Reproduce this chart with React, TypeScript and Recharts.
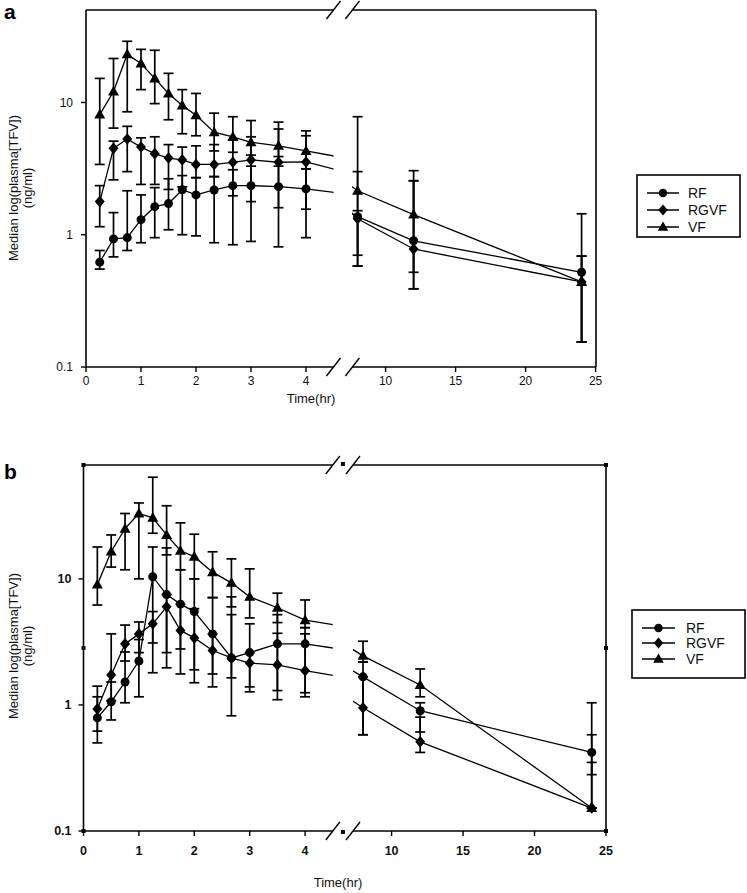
import React from 'react';
import { LineChart, Line, XAxis, YAxis, ErrorBar } from 'recharts';

const times = [0.25, 0.5, 0.75, 1, 1.25, 1.5, 1.75, 2, 2.33, 2.67, 3, 3.5, 4, 8, 12, 24];
const leftTicks = [0, 1, 2, 3, 4];
const rightTicks = [10, 15, 20, 25];
const yTicks = [0.1, 1, 10];
const seriesNames = ['RF', 'RGVF', 'VF'];

// Panel a
const aRF = [0.62, 0.93, 0.95, 1.3, 1.63, 1.72, 2.19, 2.0, 2.18, 2.35, 2.35, 2.31, 2.22, 1.37, 0.9, 0.52];
const aRFLow = [0.55, 0.68, 0.76, 0.87, 0.95, 1.09, 1.0, 0.98, 0.87, 0.84, 0.89, 0.81, 0.95, 0.58, 0.39, 0.155];
const aRFHigh = [0.76, 1.47, 2.15, 2.0, 2.27, 2.65, 2.8, 2.7, 2.75, 3.1, 3.3, 3.3, 3.15, 1.52, 2.56, 1.44];
const aRGVF = [1.78, 4.5, 5.3, 4.6, 4.1, 3.8, 3.68, 3.4, 3.4, 3.53, 3.68, 3.53, 3.55, 1.32, 0.78, 0.44];
const aRGVFLow = [1.15, 2.6, 3.0, 2.4, 2.4, 2.2, 2.3, 2.7, 2.75, 1.97, 1.78, 1.6, 1.56, 0.7, 0.39, 0.155];
const aRGVFHigh = [2.35, 5.1, 6.6, 5.4, 5.5, 4.8, 4.6, 4.7, 4.8, 5.2, 5.5, 6.3, 5.6, 3.0, 2.56, 0.69];
const aVF = [8.1, 12.1, 23.1, 19.7, 15.2, 11.7, 9.5, 8.0, 5.96, 5.5, 5.0, 4.7, 4.3, 2.15, 1.42, 0.44];
const aVFLow = [3.4, 6.4, 8.5, 12.5, 9.8, 7.4, 5.8, 5.6, 4.3, 4.2, 4.0, 3.9, 3.15, 0.58, 0.52, 0.155];
const aVFHigh = [15.2, 21.5, 29, 25.2, 24.8, 16.6, 12.5, 11.7, 8.3, 7.8, 7.3, 7.1, 6.1, 7.8, 3.05, 0.69];

// Panel b
const bRF = [0.79, 1.06, 1.52, 2.23, 10.4, 7.5, 6.3, 5.5, 3.66, 2.36, 2.6, 3.05, 3.05, 1.67, 0.9, 0.42];
const bRFLow = [0.5, 0.76, 1.04, 1.16, 1.8, 2.6, 2.78, 1.9, 1.76, 0.82, 1.39, 1.3, 1.25, 0.58, 0.61, 0.28];
const bRFHigh = [1.16, 1.52, 2.63, 3.3, 17.9, 17.6, 11.8, 10, 7.1, 7.2, 4.4, 5.2, 4.1, 2.19, 1.04, 1.04];
const bRGVF = [0.93, 1.73, 3.05, 3.66, 4.4, 6.0, 3.9, 3.4, 2.7, 2.36, 2.15, 2.08, 1.87, 0.95, 0.51, 0.152];
const bRGVFLow = [0.62, 1.08, 2.23, 2.6, 3.1, 1.97, 1.76, 1.5, 1.39, 1.64, 1.27, 1.1, 1.16, 0.58, 0.42, 0.152];
const bRGVFHigh = [1.41, 3.66, 4.3, 4.55, 5.5, 7.5, 6.3, 5.8, 3.66, 5.2, 2.6, 3.7, 3.66, 1.67, 0.8, 0.35];
const bVF = [9.0, 16.5, 25, 33, 30.5, 22.3, 16.7, 15, 11.3, 9.3, 7.2, 5.9, 4.7, 2.45, 1.44, 0.152];
const bVFLow = [6.2, 12.4, 11.8, 10, 23, 15.5, 11.8, 10, 7.1, 6.0, 4.9, 4.5, 4.1, 2.19, 1.16, 0.152];
const bVFHigh = [17.9, 22.3, 33, 40, 64, 38, 27.8, 22.6, 16.4, 14.4, 12, 7.7, 6.8, 3.2, 1.93, 0.58];

const FONT = '"Liberation Sans", Arial, sans-serif';

type Ser = { name: string; med: number[]; lo: number[]; hi: number[] };

const seriesA: Ser[] = [
  { name: 'RF', med: aRF, lo: aRFLow, hi: aRFHigh },
  { name: 'RGVF', med: aRGVF, lo: aRGVFLow, hi: aRGVFHigh },
  { name: 'VF', med: aVF, lo: aVFLow, hi: aVFHigh },
];
const seriesB: Ser[] = [
  { name: 'RF', med: bRF, lo: bRFLow, hi: bRFHigh },
  { name: 'RGVF', med: bRGVF, lo: bRGVFLow, hi: bRGVFHigh },
  { name: 'VF', med: bVF, lo: bVFLow, hi: bVFHigh },
];

function buildRows(series: Ser[], tMin: number, tMax: number, keepMin: number, keepMax: number) {
  const rows: any[] = [];
  times.forEach((t, i) => {
    if (t < keepMin || t > keepMax) return;
    const inside = t >= tMin && t <= tMax;
    const row: any = { t };
    series.forEach((s) => {
      row[s.name] = s.med[i];
      row[s.name + 'Err'] = inside ? [s.med[i] - s.lo[i], s.hi[i] - s.med[i]] : null;
    });
    rows.push(row);
  });
  return rows;
}

function drawMarker(shape: string, cx: number, cy: number, key?: any, scale = 1) {
  if (shape === 'RF') return <circle key={key} cx={cx} cy={cy} r={4.5 * scale} fill="#000" />;
  if (shape === 'RGVF')
    return (
      <polygon
        key={key}
        points={`${cx},${cy - 5.8 * scale} ${cx + 5 * scale},${cy} ${cx},${cy + 5.8 * scale} ${cx - 5 * scale},${cy}`}
        fill="#000"
      />
    );
  return (
    <polygon
      key={key}
      points={`${cx},${cy - 5.8 * scale} ${cx + 5.5 * scale},${cy + 4 * scale} ${cx - 5.5 * scale},${cy + 4 * scale}`}
      fill="#000"
    />
  );
}

const makeDot = (shape: string) => (props: any) => {
  const { cx, cy, index } = props;
  if (cx == null || cy == null || isNaN(cx) || isNaN(cy)) return <g key={`d-${shape}-${index}`} />;
  return drawMarker(shape, cx, cy, `d-${shape}-${index}`);
};

type SegProps = {
  x0: number;
  x1: number;
  yTop: number;
  yBottom: number;
  domain: [number, number];
  ticks: number[];
  yDomain: [number, number];
  data: any[];
  showY: boolean;
  xTickMargin: number;
  yTickMargin: number;
  marginRight: number;
  tickWeight: string;
  tickSize: number;
};

function Segment(p: SegProps) {
  const chartLeft = p.showY ? 0 : p.x0;
  const chartTop = p.yTop - 8;
  const xAxisH = 34;
  const width = p.x1 - chartLeft + p.marginRight;
  const height = p.yBottom - chartTop + xAxisH;
  const tickStyle = { fill: '#111', fontSize: p.tickSize, fontFamily: FONT, fontWeight: p.tickWeight };
  return (
    <div style={{ position: 'absolute', left: chartLeft, top: chartTop }}>
      <LineChart
        width={width}
        height={height}
        data={p.data}
        margin={{ top: p.yTop - chartTop, right: p.marginRight, bottom: 0, left: 0 }}
      >
        <XAxis
          dataKey="t"
          type="number"
          domain={p.domain}
          ticks={p.ticks}
          allowDataOverflow
          height={xAxisH}
          tick={tickStyle}
          tickSize={5}
          tickMargin={p.xTickMargin}
          axisLine={{ stroke: '#000', strokeWidth: 1.6 }}
          tickLine={{ stroke: '#000', strokeWidth: 1.4 }}
        />
        <YAxis
          type="number"
          scale="log"
          domain={p.yDomain}
          ticks={yTicks}
          allowDataOverflow
          hide={!p.showY}
          width={p.showY ? p.x0 : 0}
          tick={tickStyle}
          tickSize={5}
          tickMargin={p.yTickMargin}
          axisLine={{ stroke: '#000', strokeWidth: 1.6 }}
          tickLine={{ stroke: '#000', strokeWidth: 1.4 }}
        />
        {seriesNames.map((name) => (
          <Line
            key={name}
            dataKey={name}
            type="linear"
            stroke="#000"
            strokeWidth={1.3}
            dot={makeDot(name)}
            activeDot={false}
            isAnimationActive={false}
          >
            <ErrorBar dataKey={name + 'Err'} direction="y" width={5} stroke="#000" strokeWidth={1.7} />
          </Line>
        ))}
      </LineChart>
    </div>
  );
}

type PanelGeom = {
  yTop: number;
  yBottom: number;
  lx0: number;
  lx1: number;
  rx0: number;
  rx1: number;
  leftDomain: [number, number];
  rightDomain: [number, number];
  yDomain: [number, number];
};

const geomA: PanelGeom = {
  yTop: 10,
  yBottom: 367,
  lx0: 86,
  lx1: 333.5,
  rx0: 352.4,
  rx1: 596,
  leftDomain: [0, 4.5],
  rightDomain: [7.6, 25],
  yDomain: [0.1, 50],
};
const geomB: PanelGeom = {
  yTop: 465,
  yBottom: 831,
  lx0: 83.5,
  lx1: 332.8,
  rx0: 353,
  rx1: 606,
  leftDomain: [0, 4.5],
  rightDomain: [7.3, 25],
  yDomain: [0.1, 80],
};

function Breaks({ g }: { g: PanelGeom }) {
  const marks: any[] = [];
  [g.yTop, g.yBottom].forEach((y, j) => {
    [g.lx1, g.rx0].forEach((x, k) => {
      marks.push(
        <line key={`${j}-${k}`} x1={x - 7} y1={y + 9} x2={x + 7} y2={y - 9} stroke="#000" strokeWidth={1.4} />
      );
    });
  });
  return <g>{marks}</g>;
}

function Frame({ g }: { g: PanelGeom }) {
  return (
    <g stroke="#000" strokeWidth={1.6}>
      <line x1={g.lx0} y1={g.yTop} x2={g.lx1} y2={g.yTop} />
      <line x1={g.rx0} y1={g.yTop} x2={g.rx1} y2={g.yTop} />
      <line x1={g.rx1} y1={g.yTop} x2={g.rx1} y2={g.yBottom} />
    </g>
  );
}

function LegendBox({ x, y, w, h, rows, lineX1, lineX2, textX }: any) {
  return (
    <g>
      <rect x={x} y={y} width={w} height={h} fill="#fff" stroke="#000" strokeWidth={1.6} />
      {seriesNames.map((name, i) => (
        <g key={name}>
          <line x1={lineX1} y1={rows[i]} x2={lineX2} y2={rows[i]} stroke="#000" strokeWidth={1.5} />
          {drawMarker(name, (lineX1 + lineX2) / 2, rows[i], undefined, 0.95)}
          <text x={textX} y={rows[i] + 5} fontSize={14} fontFamily={FONT} fill="#111">
            {name}
          </text>
        </g>
      ))}
    </g>
  );
}

function YTitle({ x1, x2, cy }: { x1: number; x2: number; cy: number }) {
  return (
    <g fontFamily={FONT} fontSize={13} fill="#111" textAnchor="middle">
      <text transform={`translate(${x1},${cy}) rotate(-90)`}>Median log(plasma[TFV])</text>
      <text transform={`translate(${x2},${cy}) rotate(-90)`}>(ng/ml)</text>
    </g>
  );
}

function Squares({ g }: { g: PanelGeom }) {
  const midY = g.yTop + (g.yBottom - g.yTop) / 2;
  const pts = [
    [g.lx0, g.yTop],
    [g.rx1, g.yTop],
    [g.lx0, g.yBottom],
    [g.rx1, g.yBottom],
    [g.lx0, midY],
    [g.rx1, midY],
    [(g.lx1 + g.rx0) / 2, g.yTop - 1],
    [(g.lx1 + g.rx0) / 2, g.yBottom + 1],
  ];
  return (
    <g>
      {pts.map(([x, y], i) => (
        <rect key={i} x={x - 2} y={y - 2} width={4} height={4} fill="#000" />
      ))}
    </g>
  );
}

function Panel({
  g,
  series,
  xTickMargin,
  yTickMargin,
  tickWeight,
  tickSize,
}: {
  g: PanelGeom;
  series: Ser[];
  xTickMargin: number;
  yTickMargin: number;
  tickWeight: string;
  tickSize: number;
}) {
  const leftData = buildRows(series, g.leftDomain[0], g.leftDomain[1], 0, 8);
  const rightData = buildRows(series, g.rightDomain[0], g.rightDomain[1], 4, 24);
  return (
    <>
      <Segment
        x0={g.lx0}
        x1={g.lx1}
        yTop={g.yTop}
        yBottom={g.yBottom}
        domain={g.leftDomain}
        ticks={leftTicks}
        yDomain={g.yDomain}
        data={leftData}
        showY
        xTickMargin={xTickMargin}
        yTickMargin={yTickMargin}
        marginRight={0}
        tickWeight={tickWeight}
        tickSize={tickSize}
      />
      <Segment
        x0={g.rx0}
        x1={g.rx1}
        yTop={g.yTop}
        yBottom={g.yBottom}
        domain={g.rightDomain}
        ticks={rightTicks}
        yDomain={g.yDomain}
        data={rightData}
        showY={false}
        xTickMargin={xTickMargin}
        yTickMargin={yTickMargin}
        marginRight={14}
        tickWeight={tickWeight}
        tickSize={tickSize}
      />
    </>
  );
}

export default function App() {
  return (
    <div style={{ position: 'absolute', left: 0, top: 0, width: 747, height: 893, background: '#fff', overflow: 'hidden' }}>
      <Panel g={geomA} series={seriesA} xTickMargin={4} yTickMargin={8} tickWeight="normal" tickSize={12} />
      <Panel g={geomB} series={seriesB} xTickMargin={10} yTickMargin={7} tickWeight="bold" tickSize={12.5} />
      <svg width={747} height={893} style={{ position: 'absolute', left: 0, top: 0, pointerEvents: 'none' }}>
        <Frame g={geomA} />
        <Breaks g={geomA} />
        <Frame g={geomB} />
        <Breaks g={geomB} />
        <Squares g={geomB} />
        <text x={4} y={19} fontSize={21} fontWeight="bold" fontFamily={FONT} fill="#000">a</text>
        <text x={4} y={479} fontSize={21} fontWeight="bold" fontFamily={FONT} fill="#000">b</text>
        <YTitle x1={18} x2={32} cy={188} />
        <YTitle x1={18} x2={32} cy={646} />
        <text x={311} y={403} fontSize={13} fontFamily={FONT} fill="#111" textAnchor="middle">Time(hr)</text>
        <text x={338} y={887} fontSize={13} fontFamily={FONT} fill="#111" textAnchor="middle">Time(hr)</text>
        <LegendBox x={637} y={175} w={103} h={62} rows={[193, 210, 227]} lineX1={647} lineX2={679} textX={688} />
        <LegendBox x={632} y={610} w={113} h={68} rows={[628, 643, 659]} lineX1={642} lineX2={675} textX={686} />
      </svg>
    </div>
  );
}
